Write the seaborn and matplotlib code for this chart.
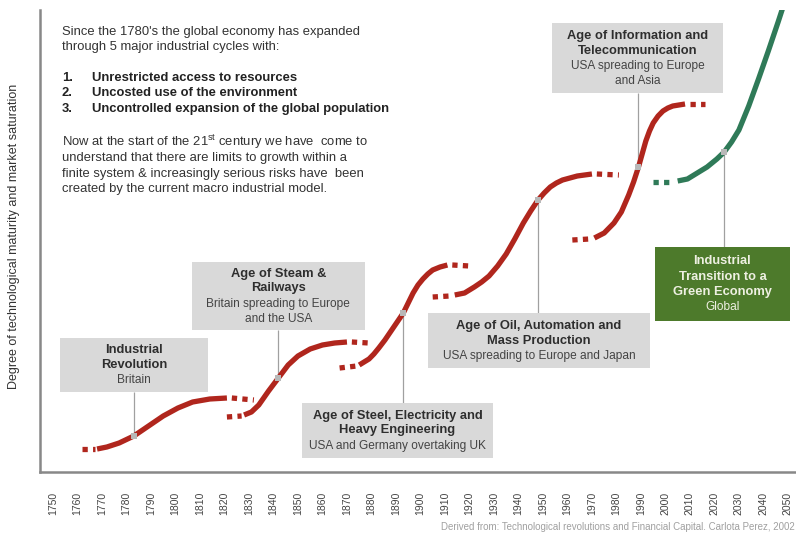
import matplotlib
matplotlib.use('Agg')
import matplotlib.pyplot as plt
import seaborn as sns
from matplotlib.patches import Rectangle

# solid part of every industrial cycle: year and level (level ~ pixel height above the axis)
ir_years = [1768, 1772, 1777, 1783, 1789, 1795, 1801, 1807, 1814, 1821]
ir_level = [23, 25, 29, 36, 46, 56, 64, 70, 73, 74]
steam_years = [1828, 1831, 1834, 1836, 1838, 1842, 1846, 1850, 1855, 1860, 1865, 1870]
steam_level = [57, 60, 67, 74, 81, 94, 107, 116, 123, 127, 129, 130]
steel_years = [1875, 1879, 1881, 1883, 1885.5, 1888, 1893, 1897, 1899, 1901, 1903, 1905, 1908, 1911]
steel_level = [107, 113, 118, 124, 132, 141, 159, 179, 187, 193, 198, 202, 205, 207]
oil_years = [1914, 1918, 1922, 1925, 1928, 1931.5, 1935, 1938.5, 1942, 1945, 1948, 1950.5,
             1953, 1955.5, 1958, 1964, 1970]
oil_level = [177, 179, 185, 190, 196, 206, 218, 233, 249, 261, 272, 279, 285, 289, 292, 296, 298]
info_years = [1971, 1975, 1979, 1982, 1985, 1987, 1989, 1992, 1993.5, 1995, 1997, 1999, 2001,
              2003, 2008]
info_level = [234, 239, 249, 260, 277, 290, 305, 331, 341, 349, 356, 361, 364, 366, 368]
green_years = [2005, 2009, 2013, 2017, 2021, 2024, 2027, 2030, 2034, 2038, 2042, 2046, 2048]
green_level = [291, 293, 299, 305, 313, 320, 330, 342, 366, 393, 421, 450, 465]

# dotted lead-in / lead-out pieces
dots_years = [[1762, 1767], [1823, 1832], [1821, 1827], [1872, 1879], [1867, 1874], [1913, 1920],
              [1905, 1912], [1972, 1981], [1962, 1969], [2010, 2016]]
dots_level = [[23, 23], [74, 72], [55, 56], [130, 129], [104, 106], [207, 206],
              [175, 176], [298, 297], [232, 233], [368, 368]]
green_dots_years = [1995, 2002]
green_dots_level = [290, 290]

# inflection markers and the boxes they point to
mark_years = [1783, 1842, 1893, 1948, 1989, 2024]
mark_level = [36, 94, 159, 272, 305, 320]
titles = [["Industrial", "Revolution"],
          ["Age of Steam &", "Railways"],
          ["Age of Steel, Electricity and", "Heavy Engineering"],
          ["Age of Oil, Automation and", "Mass Production"],
          ["Age of Information and", "Telecommunication"],
          ["Industrial", "Transition to a", "Green Economy"]]
subtitles = [["Britain"],
             ["Britain spreading to Europe", "and the USA"],
             ["USA and Germany overtaking UK"],
             ["USA spreading to Europe and Japan"],
             ["USA spreading to Europe", "and Asia"],
             ["Global"]]
# box extents: year from, year to, level from, level to
boxes = [(1752.9, 1813.3, 80, 134),
         (1806.7, 1877.3, 142, 210),
         (1851.6, 1929.6, 14, 69),
         (1903.1, 1993.7, 104, 159),
         (1953.7, 2023.5, 379, 449),
         (1995.7, 2050.8, 151, 225)]

years_ticks = list(range(1750, 2051, 10))

red = '#b0261d'
green = '#2f7a58'
box_grey = '#d9d9d9'
box_green = '#4d7a2b'

sns.set_theme(style='white')
plt.rcParams['font.family'] = ['Liberation Sans', 'DejaVu Sans']
plt.rcParams['mathtext.fontset'] = 'custom'
plt.rcParams['mathtext.rm'] = 'Liberation Sans'

fig = plt.figure(figsize=(7.96, 5.36), dpi=100)
ax = fig.add_axes([40 / 796, 64 / 536, 756 / 796, 462 / 536])
ax.set_xlim(1744.7, 2053.3)
ax.set_ylim(0, 462)

# leader lines
box_edge = [80, 142, 69, 159, 379, 225]
ax.vlines(mark_years, mark_level, box_edge, color='#a0a0a0', lw=0.9, zorder=1)

# curves
lw = 3.8
for xs, ys in [(ir_years, ir_level), (steam_years, steam_level), (steel_years, steel_level),
               (oil_years, oil_level), (info_years, info_level)]:
    sns.lineplot(x=xs, y=ys, ax=ax, color=red, linewidth=lw, sort=False, estimator=None,
                 solid_capstyle='butt', solid_joinstyle='round', zorder=3)
for xs, ys in zip(dots_years, dots_level):
    sns.lineplot(x=xs, y=ys, ax=ax, color=red, linewidth=lw, sort=False, estimator=None,
                 linestyle=(0, (1, 1)), dash_capstyle='butt', zorder=3)
sns.lineplot(x=green_years, y=green_level, ax=ax, color=green, linewidth=lw, sort=False,
             estimator=None, solid_capstyle='butt', solid_joinstyle='round', zorder=3)
sns.lineplot(x=green_dots_years, y=green_dots_level, ax=ax, color=green, linewidth=lw,
             sort=False, estimator=None, linestyle=(0, (1, 1)), dash_capstyle='butt', zorder=3)
ax.scatter(mark_years, mark_level, marker='s', s=22, color='#b8b8b8', zorder=4, linewidths=0)

# boxes with text
for i, (x0, x1, y0, y1) in enumerate(boxes):
    last = i == len(boxes) - 1
    ax.add_patch(Rectangle((x0, y0), x1 - x0, y1 - y0, facecolor=box_green if last else box_grey,
                           edgecolor='none', zorder=2))
    lines = [(t, 'bold') for t in titles[i]] + [(s, 'normal') for s in subtitles[i]]
    step = 15.0
    cx = (x0 + x1) / 2
    cy = (y0 + y1) / 2 + step * (len(lines) - 1) / 2
    for j, (txt, weight) in enumerate(lines):
        if last:
            col = '#eef0e2'
        else:
            col = '#2e2e2e' if weight == 'bold' else '#444444'
        ax.text(cx, cy - j * step, txt, ha='center', va='center',
                fontsize=9.3 if weight == 'bold' else 8.6,
                fontweight=weight, color=col, zorder=5)

# axes styling
for side in ['top', 'right']:
    ax.spines[side].set_visible(False)
for side in ['left', 'bottom']:
    ax.spines[side].set_color('#888888')
    ax.spines[side].set_linewidth(1.8)
ax.set_xticks(years_ticks)
ax.set_xticklabels([str(y) for y in years_ticks], rotation=90, fontsize=7.5, color='#444444')
ax.tick_params(axis='x', length=0, pad=14)
ax.set_yticks([])
ax.set_xlabel('')
ax.set_ylabel('')

# text outside the axes, placed on baselines
def ftext(px, py, s, **kw):
    fig.text(px / 796, 1 - py / 536, s, va='baseline', **kw)

fig.text(14 / 796, 1 - 236 / 536, 'Degree of technological maturity and market saturation',
         rotation=90, ha='center', va='center', fontsize=9, color='#333333')
ftext(62, 35, "Since the 1780's the global economy has expanded", fontsize=9.4, color='#333333')
ftext(62, 50, 'through 5 major industrial cycles with:', fontsize=9.4, color='#333333')
items = ['Unrestricted access to resources', 'Uncosted use of the environment',
         'Uncontrolled expansion of the global population']
for k, item in enumerate(items):
    ftext(62, 81 + k * 15.5, f'{k + 1}.', fontsize=9.4, fontweight='bold', color='#222222')
    ftext(92, 81 + k * 15.5, item, fontsize=9.4, fontweight='bold', color='#222222')
para = [r'Now at the start of the 21$^{\mathrm{st}}$ century we have  come to',
        'understand that there are limits to growth within a',
        'finite system & increasingly serious risks have  been',
        'created by the current macro industrial model.']
for k, line in enumerate(para):
    ftext(62, 146 + k * 15.5, line, fontsize=9.4, color='#333333')

fig.text(795 / 796, 1 - 527 / 536,
         'Derived from: Technological revolutions and Financial Capital. Carlota Perez, 2002',
         ha='right', va='center', fontsize=7, color='#a0a0a0')

fig.savefig('out.png', dpi=100)
